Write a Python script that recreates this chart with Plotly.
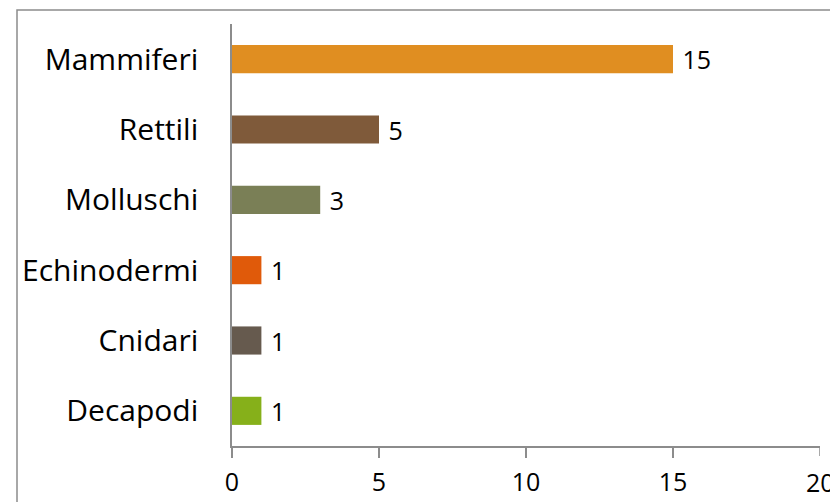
import plotly.graph_objects as go

categories = ["Decapodi", "Cnidari", "Echinodermi", "Molluschi", "Rettili", "Mammiferi"]
values = [1, 1, 1, 3, 5, 15]
colors = ["#86B01A", "#665A4E", "#E05A0A", "#7A7F56", "#7F5A3A", "#E08E21"]
x_ticks = [0, 5, 10, 15, 20]

fig = go.Figure(go.Bar(
    y=categories, x=values, orientation="h",
    marker=dict(color=colors, line=dict(width=0)),
    width=0.4,
    texttemplate=" %{x}", textposition="outside",
    textfont=dict(family="Open Sans", size=25, color="#000000"),
    constraintext="none",
    cliponaxis=False,
))

W, H = 830, 502
ml, mr, mt, mb = 232, 10, 24, 56
pw, ph = W - ml - mr, H - mt - mb
fx = (17 - ml) / pw
fy = 1 + (mt - 10) / ph

# last tick label sits on the window edge (cut off in the original too)
annotations = [dict(x=x_ticks[-1], y=0, xref="x", yref="paper", text=str(x_ticks[-1]),
                    showarrow=False, yanchor="top", yshift=-17,
                    font=dict(family="Open Sans", size=25, color="#000000"))]

fig.update_layout(
    width=W, height=H,
    margin=dict(l=ml, r=mr, t=mt, b=mb, autoexpand=False),
    paper_bgcolor="white", plot_bgcolor="white",
    showlegend=False,
    font=dict(family="Open Sans", color="#000000"),
    xaxis=dict(range=[0, 20], tickvals=x_ticks[:-1], showgrid=False, zeroline=False,
               showline=True, linecolor="#8C8C8C", linewidth=1.5,
               ticks="outside", ticklen=10, tickcolor="#8C8C8C", tickwidth=1.5,
               ticklabelstandoff=3, automargin=False,
               tickfont=dict(size=25, color="#000000")),
    yaxis=dict(showgrid=False, zeroline=False, showline=True, linecolor="#8C8C8C",
               linewidth=1.5, ticks="", ticklabelstandoff=26, automargin=False,
               tickfont=dict(size=30, color="#000000")),
    annotations=annotations,
    shapes=[dict(type="path", xref="paper", yref="paper",
                 path=f"M {fx} -0.3 L {fx} {fy} L 1.2 {fy}",
                 line=dict(color="#8C8C8C", width=1.5)),
            dict(type="line", xref="x", yref="paper", x0=x_ticks[-1], x1=x_ticks[-1],
                 y0=0, y1=-10 / ph, line=dict(color="#8C8C8C", width=1.5))],
)

fig.write_html("out.html")
